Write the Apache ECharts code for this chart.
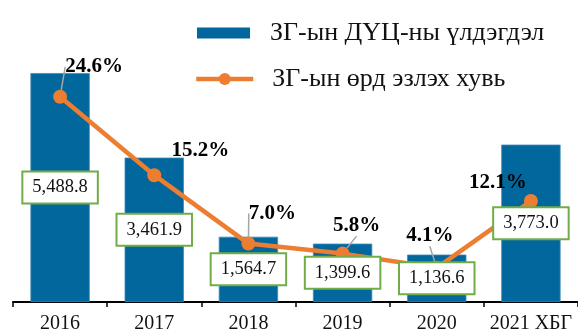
<!DOCTYPE html>
<html>
<head>
<meta charset="utf-8">
<script src="https://cdn.jsdelivr.net/npm/echarts@6/dist/echarts.min.js"></script>
<style>
  html, body { margin: 0; padding: 0; background: #fff; }
  #chart { width: 578px; height: 336px; }
</style>
</head>
<body>
<div id="chart"></div>
<script>
// Government securities balance (bars) and its share (line), by year
const years = ['2016', '2017', '2018', '2019', '2020', '2021 ХБГ'];
const balance = [5488.8, 3461.9, 1564.7, 1399.6, 1136.6, 3773.0];
const share = [24.6, 15.2, 7.0, 5.8, 4.1, 12.1];
const balanceName = 'ЗГ-ын ДҮЦ-ны үлдэгдэл';
const shareName = 'ЗГ-ын өрд эзлэх хувь';

// where each percentage label sits relative to its point, and which get a leader line
const shareLabelShift = [[34, -30], [46, -25], [24, -30], [14, -28], [-7, -32], [-33, -18]];
const shareLeader = [true, false, true, true, true, false];

const serif = '"Liberation Serif", "Times New Roman", serif';
const fmtBalance = v => v.toLocaleString('en-US', { minimumFractionDigits: 1, maximumFractionDigits: 1 });

const legendText = pad => ({
  fontFamily: serif,
  fontSize: 26,
  color: '#111',
  lineHeight: 30,
  padding: [0, 0, 0, pad]
});

const chart = echarts.init(document.getElementById('chart'), null, { renderer: 'canvas' });

chart.setOption({
  animation: false,
  backgroundColor: '#fff',
  textStyle: { fontFamily: serif },
  legend: [
    {
      left: 192,
      top: 13,
      itemWidth: 53,
      itemHeight: 11,
      itemStyle: { borderWidth: 0 },
      data: [{ name: balanceName, icon: 'rect' }],
      textStyle: legendText(15)
    },
    {
      left: 189,
      top: 59,
      itemWidth: 57,
      itemHeight: 15,
      lineStyle: { width: 4.5 },
      data: [{ name: shareName }],
      textStyle: legendText(14)
    }
  ],
  grid: { left: 13, right: 0, top: 10, bottom: 34, containLabel: false },
  xAxis: {
    type: 'category',
    data: years,
    boundaryGap: true,
    axisLine: { lineStyle: { color: '#000', width: 2 } },
    axisTick: { show: true, length: 5, lineStyle: { color: '#000', width: 1.5 } },
    axisLabel: { interval: 0, fontFamily: serif, fontSize: 20, color: '#111', margin: 12 }
  },
  yAxis: [
    { type: 'value', min: 0, max: 7000, show: false, splitLine: { show: false } },
    { type: 'value', min: 0, max: 35, show: false, splitLine: { show: false } }
  ],
  series: [
    {
      name: balanceName,
      type: 'bar',
      data: balance,
      barWidth: '63%',
      z: 2,
      itemStyle: { color: '#02679c', borderColor: '#3f8cbd', borderWidth: 0.8 }
    },
    {
      name: shareName,
      type: 'line',
      yAxisIndex: 1,
      z: 3,
      data: share.map((v, i) => ({
        value: v,
        labelLine: { show: shareLeader[i] }
      })),
      symbol: 'circle',
      symbolSize: 14,
      lineStyle: { color: '#ED7D31', width: 4.5 },
      itemStyle: { color: '#ED7D31' },
      label: {
        show: true,
        position: 'inside',
        formatter: p => p.value.toFixed(1) + '%',
        fontFamily: serif,
        fontWeight: 'bold',
        fontSize: 21,
        color: '#000'
      },
      labelLine: { show: true, lineStyle: { color: '#A5A5A5', width: 1.5 } },
      labelLayout: p => ({ dx: shareLabelShift[p.dataIndex][0], dy: shareLabelShift[p.dataIndex][1] })
    },
    {
      // invisible copy of the bars that carries the boxed value labels above the line
      name: 'balanceLabels',
      type: 'bar',
      data: balance,
      barWidth: '63%',
      barGap: '-100%',
      z: 5,
      silent: true,
      itemStyle: { color: 'rgba(0,0,0,0)' },
      label: {
        show: true,
        position: 'inside',
        formatter: p => fmtBalance(p.value),
        fontFamily: serif,
        fontSize: 18.5,
        color: '#111',
        backgroundColor: '#fff',
        borderColor: '#70AD47',
        borderWidth: 2,
        padding: [5, 9, 5, 9],
        lineHeight: 20
      }
    }
  ]
});
</script>
</body>
</html>
